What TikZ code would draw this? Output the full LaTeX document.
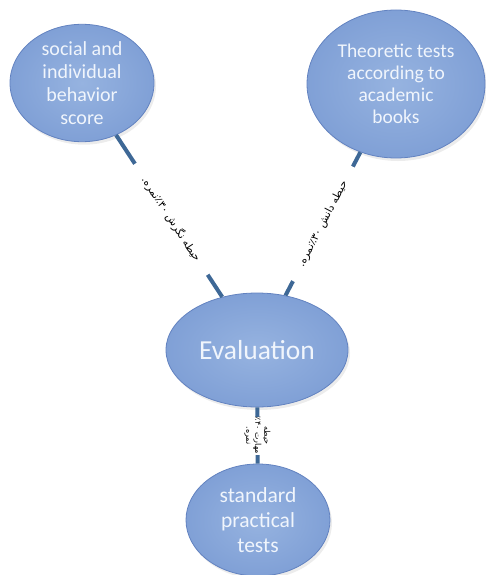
\documentclass[tikz,border=0pt]{standalone}
\usepackage{fontspec}
\setmainfont{Carlito}
\newfontfamily\farsi[Script=Arabic]{DejaVu Sans}
\TeXXeTstate=1
\usetikzlibrary{shapes.geometric,shadows}
\definecolor{bubin}{RGB}{150,179,224}
\definecolor{bubout}{RGB}{128,160,214}
\definecolor{bubrim}{RGB}{98,130,192}
\definecolor{linkc}{RGB}{62,104,150}
\definecolor{txtc}{RGB}{240,245,252}
\begin{document}
\begin{tikzpicture}[x=1pt,y=-1pt,
  bubble/.style={ellipse, inner sep=0pt, shading=radial, inner color=bubin, outer color=bubout,
    draw=bubrim, line width=0.8pt, text=txtc, align=center,
    drop shadow={shadow xshift=2pt, shadow yshift=-3pt, opacity=0.15}},
  link/.style={draw=linkc, line width=4pt},
  lab/.style={fill=white, text=black, inner xsep=17pt, inner ysep=1pt,
    font=\farsi\fontsize{10.5}{12}\selectfont, align=center}]
\useasboundingbox (0,0) rectangle (486,575);

\node[bubble, minimum width=144pt, minimum height=110pt,
  font=\fontsize{20}{23}\selectfont] (soc) at (82,83)
  {social and\\individual\\behavior\\score};
\node[bubble, minimum width=178pt, minimum height=148pt,
  font=\fontsize{19.5}{22}\selectfont] (theo) at (396,84)
  {Theoretic tests\\according to\\academic\\books};
\node[bubble, minimum width=182pt, minimum height=114pt,
  font=\fontsize{27.5}{30}\selectfont] (eval) at (257,350) {Evaluation};
\node[bubble, minimum width=144pt, minimum height=112pt,
  font=\fontsize{21.5}{25}\selectfont] (std) at (258,520)
  {standard\\practical\\tests};

\draw[link] (soc) -- node[lab, sloped, pos=0.52]
  {\beginR حیطه نگرش \beginL۳۰\endL٪نمره.\endR} (eval);
\draw[link] (theo) -- node[lab, sloped, pos=0.5]
  {\beginR حیطه دانش \beginL۳۰\endL٪نمره.\endR} (eval);
\draw[link] (eval) -- node[lab, rotate=-90, inner ysep=2pt, inner xsep=0pt,
  minimum width=38pt, font=\farsi\fontsize{8}{9}\selectfont]
  {\beginR حیطه\endR\\\beginR مهارت \beginL۴۰\endL٪\endR\\\beginR نمره.\endR} (std);
\end{tikzpicture}
\end{document}
